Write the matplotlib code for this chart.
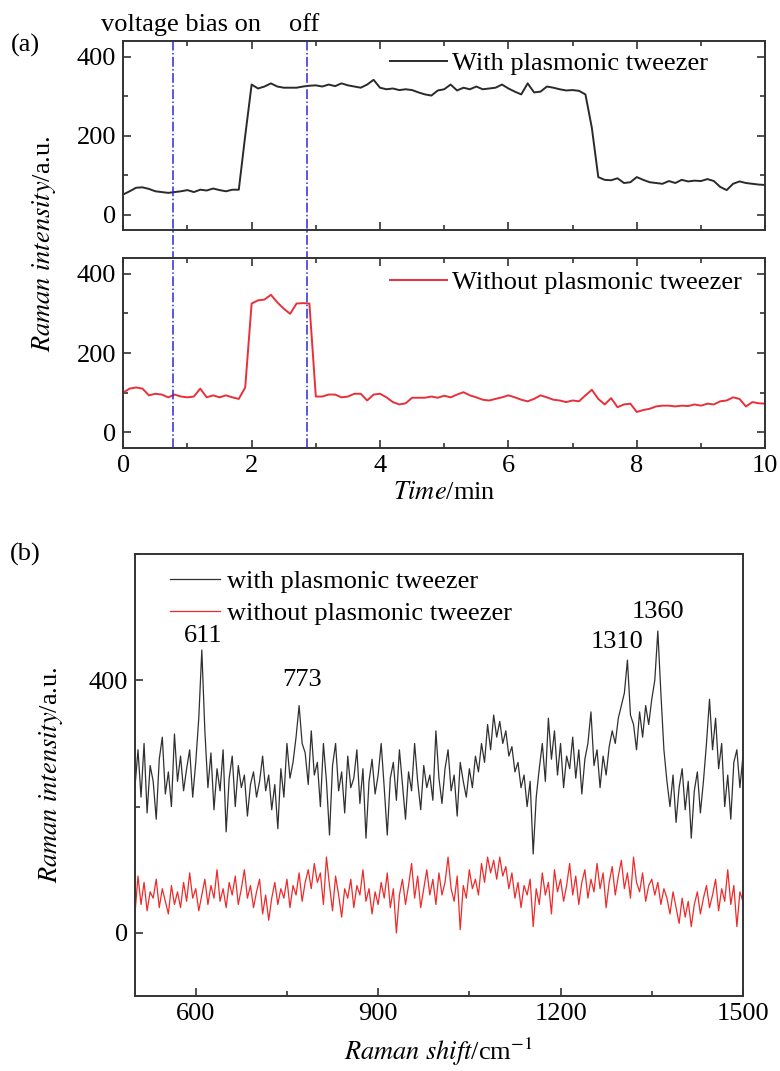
import numpy as np
import matplotlib.pyplot as plt
from matplotlib.ticker import MultipleLocator

plt.rcParams['font.family'] = ['Liberation Serif', 'DejaVu Serif']
plt.rcParams['mathtext.fontset'] = 'stix'

# (a) time traces, one point every 0.1 min
time_min = np.arange(0, 101) / 10.0
with_tweezer = [51, 59, 68, 69, 65, 59, 57, 55, 57, 59,
                62, 57, 63, 61, 66, 62, 59, 63, 63, 200,
                330, 320, 325, 333, 325, 322, 322, 322, 325, 327,
                328, 325, 330, 326, 333, 328, 325, 322, 330, 342,
                322, 318, 320, 316, 318, 316, 310, 305, 302, 315,
                318, 330, 315, 322, 318, 325, 318, 320, 322, 330,
                320, 312, 305, 333, 310, 312, 325, 322, 318, 315,
                316, 314, 305, 220, 95, 88, 87, 92, 80, 82,
                95, 88, 82, 80, 78, 85, 80, 88, 84, 86,
                85, 90, 85, 70, 62, 78, 84, 80, 78, 76,
                75]
without_tweezer = [100, 110, 113, 110, 93, 97, 95, 88, 95, 90,
                   88, 90, 110, 88, 93, 88, 93, 88, 84, 113,
                   325, 333, 335, 347, 328, 312, 299, 325, 326, 325,
                   90, 90, 95, 95, 88, 90, 97, 97, 80, 95,
                   97, 88, 76, 70, 73, 87, 87, 87, 90, 87,
                   92, 88, 95, 101, 93, 88, 82, 80, 84, 88,
                   93, 88, 82, 78, 84, 93, 88, 82, 80, 76,
                   80, 78, 93, 107, 84, 70, 86, 63, 70, 72,
                   51, 56, 59, 65, 67, 67, 65, 67, 66, 70,
                   67, 72, 70, 78, 80, 88, 84, 65, 76, 73,
                   72]
bias_on = 0.77
bias_off = 2.87

# (b) spectra, every 5 cm-1 from 500 to 1500
shift = np.arange(500, 1501, 5)
spec_with = [230, 290, 215, 300, 190, 265, 240, 180, 275, 310,
             220, 255, 200, 315, 240, 280, 225, 260, 290, 215,
             270, 340, 448, 320, 230, 285, 195, 260, 225, 290,
             160, 245, 280, 200, 265, 230, 250, 185, 235, 255,
             215, 240, 280, 225, 250, 195, 235, 165, 260, 215,
             300, 245, 270, 310, 360, 300, 285, 235, 320, 250,
             270, 200, 300, 240, 155, 265, 300, 225, 255, 190,
             280, 230, 245, 290, 205, 260, 150, 240, 275, 220,
             250, 300, 230, 155, 245, 270, 210, 290, 235, 180,
             255, 225, 300, 240, 195, 265, 230, 250, 210, 320,
             245, 205, 260, 290, 225, 250, 185, 270, 240, 215,
             260, 230, 280, 255, 300, 270, 330, 290, 345, 310,
             335, 300, 320, 280, 295, 255, 270, 230, 250, 200,
             240, 125, 215, 260, 300, 240, 340, 275, 320, 250,
             300, 230, 280, 260, 310, 245, 290, 220, 275, 300,
             350, 265, 290, 230, 280, 250, 295, 320, 300, 340,
             360, 380, 432, 345, 330, 290, 350, 310, 360, 330,
             370, 400, 478, 380, 290, 240, 200, 250, 175, 230,
             260, 195, 240, 150, 225, 255, 190, 240, 300, 370,
             290, 340, 260, 300, 200, 250, 180, 270, 290, 230,
             280]
spec_without = [30, 90, 45, 80, 35, 65, 55, 85, 40, 70,
                50, 30, 75, 45, 65, 40, 80, 50, 95, 55,
                70, 35, 60, 85, 45, 75, 55, 100, 50, 70,
                40, 80, 60, 90, 45, 70, 100, 55, 75, 40,
                65, 85, 30, 60, 20, 55, 80, 45, 70, 55,
                85, 40, 75, 60, 95, 50, 80, 100, 70, 110,
                80, 95, 45, 120, 75, 35, 90, 60, 25, 70,
                55, 85, 40, 75, 60, 100, 50, 70, 30, 65,
                45, 80, 55, 95, 40, 70, 0, 60, 85, 45,
                75, 110, 55, 90, 40, 70, 100, 60, 85, 45,
                95, 60, 80, 120, 70, 50, 90, 5, 75, 55,
                100, 70, 85, 60, 110, 80, 120, 95, 115, 85,
                120, 90, 105, 70, 95, 55, 80, 40, 75, 60,
                85, 10, 70, 45, 95, 60, 80, 30, 100, 65,
                85, 50, 75, 110, 60, 90, 45, 80, 100, 55,
                85, 65, 110, 70, 95, 40, 80, 105, 60, 90,
                115, 70, 95, 55, 120, 80, 65, 95, 50, 75,
                85, 60, 80, 45, 70, 55, 30, 65, 40, 15,
                55, 25, 50, 10, 45, 65, 30, 55, 75, 40,
                60, 85, 35, 70, 50, 100, 45, 75, 10, 65,
                50]
peak_labels = ['611', '773', '1310', '1360']
peak_x = [612, 775, 1293, 1360]
peak_y = [470, 401, 460, 508]

FS = 19
spine_c = '#333333'
blue = '#2b2bd6'

fig = plt.figure(figsize=(7.8, 10.71), dpi=100)
ax1 = fig.add_axes([0.158, 0.785, 0.823, 0.1765])
ax2 = fig.add_axes([0.158, 0.5817, 0.823, 0.1774])
ax3 = fig.add_axes([0.173, 0.070, 0.7795, 0.4127])


def style(ax, both=True):
    for s in ax.spines.values():
        s.set_color(spine_c)
        s.set_linewidth(1.4)
    ax.tick_params(which='both', direction='in', top=both, right=both,
                   labelsize=FS, color=spine_c, width=1.2, pad=5)
    ax.tick_params(which='major', length=6)
    ax.tick_params(which='minor', length=3.5)


# panel (a)
ax1.plot(time_min, with_tweezer, color='#2a2a2a', lw=1.4, label='With plasmonic tweezer')
ax2.plot(time_min, without_tweezer, color='#e8303a', lw=1.4, label='Without plasmonic tweezer')
for ax, top in ((ax1, 0.945), (ax2, 0.935)):
    ax.set_xlim(0, 10)
    ax.set_ylim(-40, 440)
    ax.xaxis.set_major_locator(MultipleLocator(2))
    ax.xaxis.set_minor_locator(MultipleLocator(1))
    ax.yaxis.set_major_locator(MultipleLocator(200))
    ax.yaxis.set_minor_locator(MultipleLocator(100))
    style(ax)
    ax.legend(loc='upper left', bbox_to_anchor=(0.416, top), frameon=False,
              fontsize=FS, handlelength=2.15, handletextpad=0.2, borderpad=0,
              borderaxespad=0)
ax1.tick_params(labelbottom=False)

# bias lines cross the gap between the two panels
for xv in (bias_on, bias_off):
    ax1.axvline(xv, ymin=-0.16, ymax=1, color=blue, lw=1.1, ls='-.', clip_on=False)
    ax2.axvline(xv, color=blue, lw=1.1, ls='-.')

ax2.set_xlabel(r'$\it{Time}$/min', fontsize=FS, labelpad=4)
fig.text(0.056, 0.772, r'$\it{Raman\ intensity}$/a.u.', rotation=90,
         ha='center', va='center', fontsize=FS)
fig.text(0.232, 0.977, 'voltage bias on', ha='center', va='center', fontsize=FS)
fig.text(0.390, 0.977, 'off', ha='center', va='center', fontsize=FS)
fig.text(0.032, 0.958, '(a)', ha='center', va='center', fontsize=FS)

# panel (b)
ax3.plot(shift, spec_with, color='#303030', lw=0.9, label='with plasmonic tweezer')
ax3.plot(shift, spec_without, color='#ee2a2a', lw=0.9, label='without plasmonic tweezer')
ax3.set_xlim(500, 1500)
ax3.set_ylim(-100, 600)
ax3.xaxis.set_major_locator(MultipleLocator(300))
ax3.xaxis.set_minor_locator(MultipleLocator(150))
ax3.yaxis.set_major_locator(MultipleLocator(400))
ax3.yaxis.set_minor_locator(MultipleLocator(200))
style(ax3, both=False)
ax3.set_xticks([600, 900, 1200, 1500])
ax3.legend(loc='upper left', bbox_to_anchor=(0.0576, 0.965), frameon=False,
           fontsize=FS, handlelength=1.9, handletextpad=0.27, labelspacing=0.33,
           borderpad=0, borderaxespad=0)
for lab, px, py in zip(peak_labels, peak_x, peak_y):
    ax3.text(px, py, lab, ha='center', va='center', fontsize=FS)
ax3.set_xlabel(r'$\it{Raman\ shift}$/cm$^{-1}$', fontsize=FS, labelpad=8)
ax3.set_ylabel(r'$\it{Raman\ intensity}$/a.u.', fontsize=FS)
ax3.yaxis.set_label_coords(-0.115, 0.5)
fig.text(0.032, 0.482, '(b)', ha='center', va='center', fontsize=FS)

fig.savefig('out.png', dpi=100)
